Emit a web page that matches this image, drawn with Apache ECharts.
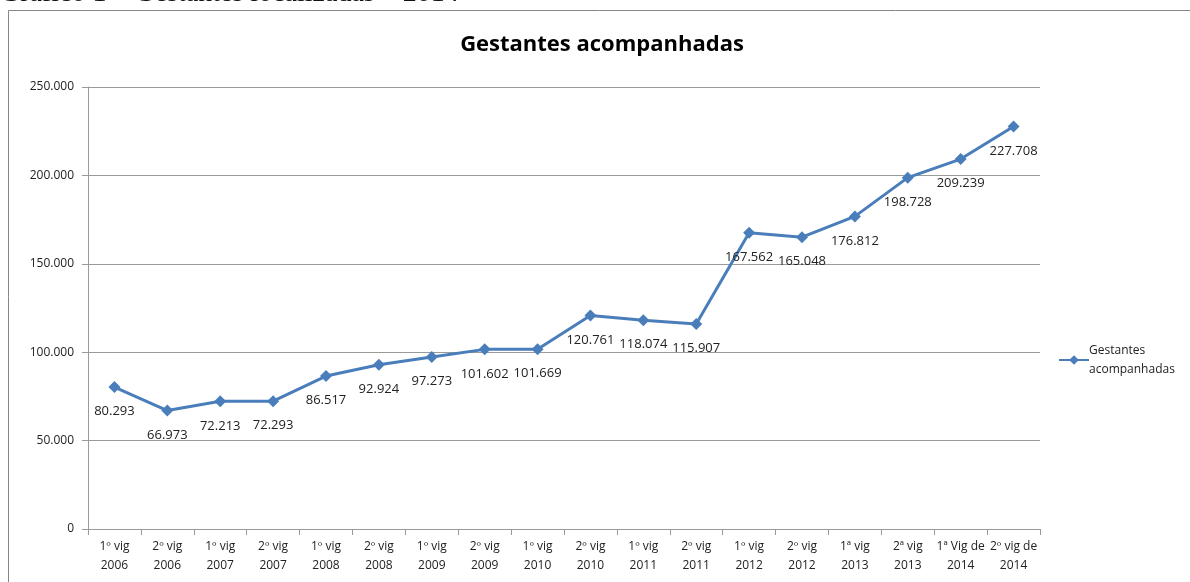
<!DOCTYPE html>
<html>
<head>
<meta charset="utf-8">
<script src="https://cdn.jsdelivr.net/npm/echarts@6/dist/echarts.min.js"></script>
<style>
  html, body { margin: 0; padding: 0; background: #fff; }
  #chart { width: 1190px; height: 582px; }
</style>
</head>
<body>
<div id="chart"></div>
<script>
const categories = [
  '1º vig\n2006', '2º vig\n2006', '1º vig\n2007', '2º vig\n2007',
  '1º vig\n2008', '2º vig\n2008', '1º vig\n2009', '2º vig\n2009',
  '1º vig\n2010', '2º vig\n2010', '1º vig\n2011', '2º vig\n2011',
  '1º vig\n2012', '2º vig\n2012', '1ª vig\n2013', '2ª vig\n2013',
  '1ª Vig de\n2014', '2º vig de\n2014'
]
const gestantes = [
  80293, 66973, 72213, 72293, 86517, 92924, 97273, 101602, 101669,
  120761, 118074, 115907, 167562, 165048, 176812, 198728, 209239, 227708
]

const fmt = v => String(v).replace(/\B(?=(\d{3})+(?!\d))/g, '.')
const font = 'Open Sans'

const chart = echarts.init(document.getElementById('chart'))
chart.setOption({
  animation: false,
  title: {
    text: 'Gestantes acompanhadas',
    left: 597,
    textAlign: 'center',
    top: 29,
    textStyle: { fontFamily: font, fontSize: 22, fontWeight: 'bold', color: '#000' }
  },
  graphic: [
    {
      type: 'text',
      x: 0,
      y: -20,
      style: {
        text: 'Gráfico 1 – Gestantes localizadas – 2014',
        fontFamily: 'Liberation Serif',
        fontSize: 28,
        fontWeight: 'normal',
        fill: '#111'
      }
    },
    {
      type: 'rect',
      shape: { x: 8.5, y: 10.5, width: 1200, height: 600 },
      style: { fill: 'none', stroke: '#878787', lineWidth: 1 }
    }
  ],
  legend: {
    left: 1053,
    top: 336,
    orient: 'vertical',
    itemWidth: 30,
    itemHeight: 12,
    itemGap: 0,
    textStyle: { fontFamily: font, fontSize: 12, color: '#222', lineHeight: 19, padding: [0, 0, 0, -5] },
    formatter: () => 'Gestantes\nacompanhadas',
    data: ['Gestantes acompanhadas']
  },
  grid: { left: 88, right: 150, top: 87, bottom: 53 },
  xAxis: {
    type: 'category',
    data: categories,
    boundaryGap: true,
    axisLine: { lineStyle: { color: '#9a9a9a' } },
    axisTick: { show: true, length: 6, lineStyle: { color: '#9a9a9a' } },
    axisLabel: { interval: 0, fontFamily: font, fontSize: 12, color: '#222', lineHeight: 19, margin: 8 }
  },
  yAxis: {
    type: 'value',
    min: 0,
    max: 250000,
    interval: 50000,
    axisLine: { show: true, lineStyle: { color: '#9a9a9a' } },
    axisTick: { show: true, length: 6, lineStyle: { color: '#9a9a9a' } },
    splitLine: { lineStyle: { color: '#9a9a9a' } },
    axisLabel: { fontFamily: font, fontSize: 12, color: '#222', margin: 14, formatter: fmt }
  },
  series: [{
    name: 'Gestantes acompanhadas',
    type: 'line',
    data: gestantes,
    symbol: 'diamond',
    symbolSize: 12,
    lineStyle: { color: '#4a7ebb', width: 3 },
    itemStyle: { color: '#4a7ebb' },
    label: {
      show: true,
      position: 'bottom',
      distance: 12,
      fontFamily: font,
      fontSize: 13,
      color: '#222',
      formatter: p => fmt(p.value)
    }
  }]
})
</script>
</body>
</html>
